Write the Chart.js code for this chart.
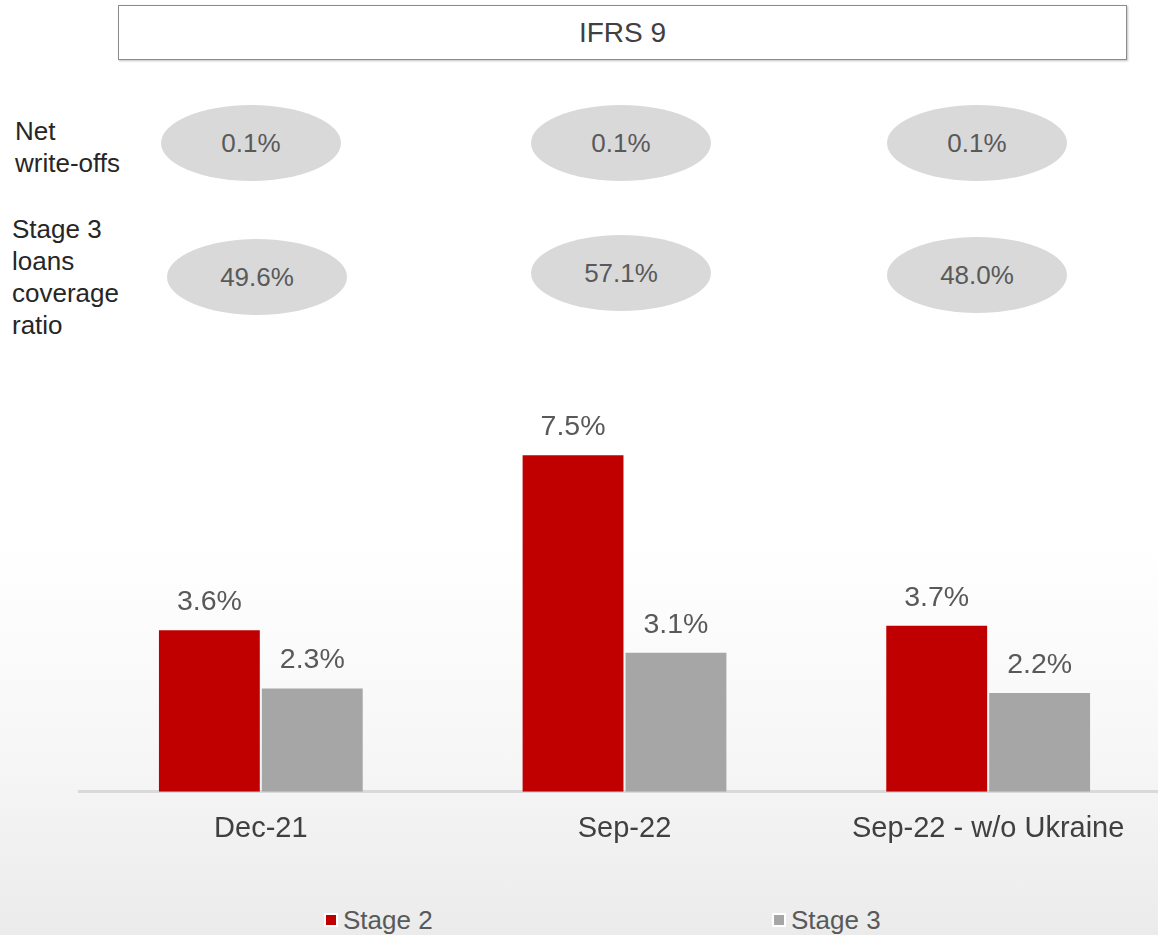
<!DOCTYPE html>
<html>
<head>
<meta charset="utf-8">
<script src="https://cdn.jsdelivr.net/npm/chart.js@4"></script>
<style>
  html, body { margin:0; padding:0; }
  body {
    width:1158px; height:935px; overflow:hidden; position:relative;
    font-family:"Liberation Sans", Arial, sans-serif;
    background:linear-gradient(to bottom, #ffffff 0%, #ffffff 58%, #f7f7f7 80%, #ebebeb 100%);
  }
  .title {
    position:absolute; left:118px; top:5px; width:1007px; height:53px;
    border:1.5px solid #8c8c8c; box-shadow:1px 1px 2px rgba(0,0,0,.25);
    background:#fff; color:#404040; font-size:28px;
    display:flex; align-items:center; justify-content:center;
  }
  .rowlab { position:absolute; color:#262626; font-size:26px; line-height:32px; }
  .oval {
    position:absolute; width:180px; height:76px; border-radius:50%;
    background:#d9d9d9; color:#595959; font-size:26px;
    display:flex; align-items:center; justify-content:center;
  }
  #chartWrap { position:absolute; left:0; top:380px; }
  .leg { position:absolute; top:905px; height:30px; display:flex; align-items:center;
    color:#595959; font-size:26px; }
  .leg i { display:inline-block; width:10px; height:10px; border:2px solid #fff; margin-right:5px; }
</style>
</head>
<body>
<div class="title" id="title"></div>
<div id="overlay"></div>
<div id="chartWrap"><canvas id="chart" width="1180" height="500"></canvas></div>
<div id="legend"></div>

<script>
(() => {
  // ============================================================
  // Data
  // ============================================================
  const TITLE = "IFRS 9";
  const CATEGORIES = ["Dec-21", "Sep-22", "Sep-22 - w/o Ukraine"];
  const STAGE2 = [3.6, 7.5, 3.7];
  const STAGE3 = [2.3, 3.1, 2.2];
  const NET_WRITE_OFFS = [0.1, 0.1, 0.1];
  const COVERAGE_RATIO = [49.6, 57.1, 48.0];
  const SERIES_NAMES = ["Stage 2", "Stage 3"];

  const RED = "#c00000";
  const GREY = "#a6a6a6";
  const fmtPct = (n) => `${n.toFixed(1)}%`;

  const $ = (id) => document.getElementById(id);

  // ============================================================
  // Header + ovals
  // ============================================================
  $("title").textContent = TITLE;

  const overlay = $("overlay");
  const addLabel = (lines, left, top) => {
    const d = document.createElement("div");
    d.className = "rowlab";
    d.style.left = left + "px";
    d.style.top = top + "px";
    d.innerHTML = lines.join("<br>");
    overlay.appendChild(d);
  };
  addLabel(["Net", "write-offs"], 15, 115);
  addLabel(["Stage 3", "loans", "coverage", "ratio"], 12, 213);

  const ovalX1 = [251, 621, 977];
  const ovalX2 = [257, 621, 977];
  const ovalY2 = [277, 273, 275];
  const addOval = (txt, cx, cy) => {
    const d = document.createElement("div");
    d.className = "oval";
    d.style.left = (cx - 90) + "px";
    d.style.top = (cy - 38) + "px";
    d.textContent = txt;
    overlay.appendChild(d);
  };
  NET_WRITE_OFFS.forEach((v, i) => addOval(fmtPct(v), ovalX1[i], 143));
  COVERAGE_RATIO.forEach((v, i) => addOval(fmtPct(v), ovalX2[i], ovalY2[i]));

  // ============================================================
  // Legend
  // ============================================================
  const legend = $("legend");
  const legX = [324, 772];
  SERIES_NAMES.forEach((name, i) => {
    const d = document.createElement("div");
    d.className = "leg";
    d.style.left = legX[i] + "px";
    d.innerHTML = `<i style="background:${i ? GREY : RED}"></i>${name}`;
    legend.appendChild(d);
  });

  // ============================================================
  // Bar value labels
  // ============================================================
  const valueLabels = {
    id: "valueLabels",
    afterDatasetsDraw(chart) {
      const ctx = chart.ctx;
      ctx.save();
      ctx.font = '28.5px "Liberation Sans", Arial, sans-serif';
      ctx.fillStyle = "#595959";
      ctx.textAlign = "center";
      ctx.textBaseline = "middle";
      chart.data.datasets.forEach((ds, di) => {
        chart.getDatasetMeta(di).data.forEach((bar, i) => {
          ctx.fillText(fmtPct(ds.data[i]), bar.x, bar.y - 28);
        });
      });
      ctx.restore();
    }
  };

  // ============================================================
  // Chart
  // ============================================================
  new Chart($("chart"), {
    type: "bar",
    data: {
      labels: CATEGORIES,
      datasets: [
        { label: SERIES_NAMES[0], data: STAGE2, backgroundColor: RED },
        { label: SERIES_NAMES[1], data: STAGE3, backgroundColor: GREY },
      ]
    },
    options: {
      responsive: false,
      devicePixelRatio: 1,
      animation: false,
      categoryPercentage: 0.566,
      barPercentage: 0.98,
      layout: { padding: { left: 79, right: 10, top: 30.5, bottom: 13.4 } },
      plugins: { legend: { display: false }, tooltip: { enabled: false } },
      scales: {
        x: {
          grid: { display: false, drawTicks: false },
          border: { display: true, color: "#d9d9d9", width: 3 },
          ticks: {
            color: "#404040", padding: 20,
            font: { family: '"Liberation Sans", Arial, sans-serif', size: 29 }
          }
        },
        y: { display: false, min: 0, max: 8.5 }
      }
    },
    plugins: [valueLabels]
  });
})();
</script>
</body>
</html>
